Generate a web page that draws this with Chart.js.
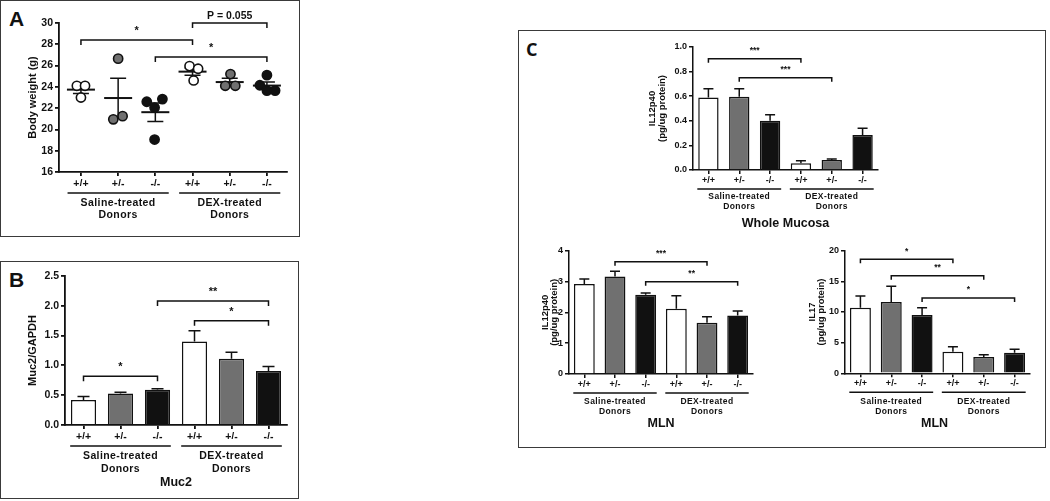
<!DOCTYPE html>
<html>
<head>
<meta charset="utf-8">
<script src="https://cdn.jsdelivr.net/npm/chart.js@4.4.1/dist/chart.umd.min.js"></script>
<style>
body{margin:0;background:#fff;}
#fig{position:relative;width:1050px;height:501px;overflow:hidden;background:#fff;}
.box{position:absolute;border:1.5px solid #3a3a3a;box-sizing:border-box;}
.letter{position:absolute;font-weight:bold;color:#111;line-height:1;}
canvas{position:absolute;}
</style>
</head>
<body>
<div id="fig">
  <div class="box" style="left:0;top:0;width:300px;height:237px"></div>
  <div class="box" style="left:0;top:261px;width:299px;height:238px"></div>
  <div class="box" style="left:518px;top:30px;width:528px;height:418px"></div>
  <div class="letter" style="left:9px;top:7px;font:bold 21px 'Liberation Sans',Arial,sans-serif">A</div>
  <div class="letter" style="left:9px;top:268px;font:bold 21px 'Liberation Sans',Arial,sans-serif">B</div>
  <div class="letter" style="left:526px;top:37px;font:bold 18px 'Open Sans',sans-serif">C</div>
  <canvas id="chartA" width="300" height="237" style="left:0;top:0"></canvas>
  <canvas id="chartB" width="300" height="236" style="left:0;top:262px"></canvas>
  <canvas id="chartC1" width="300" height="205" style="left:600px;top:32px"></canvas>
  <canvas id="chartC2" width="250" height="200" style="left:520px;top:235px"></canvas>
  <canvas id="chartC3" width="262" height="200" style="left:780px;top:235px"></canvas>
</div>
<script>
// ---- data ----
const genotypes = ['+/+', '+/-', '-/-', '+/+', '+/-', '-/-'];
const groupNames = [['Saline-treated', 'Donors'], ['DEX-treated', 'Donors']];
const groupColors = ['#ffffff', '#707070', '#111111', '#ffffff', '#707070', '#111111'];

// A: body weight, individual mice
const weightTicks = [16, 18, 20, 22, 24, 26, 28, 30];
const weightValues = [
    [24.1, 24.1, 23.0],
    [26.65, 20.95, 21.25],
    [22.6, 22.85, 22.05, 19.05],
    [25.95, 25.7, 24.6],
    [25.2, 24.1, 24.1],
    [24.15, 25.1, 23.65, 23.65]
];
const weightJitter = [
    [-0.11, 0.11, 0],
    [0, -0.13, 0.12],
    [-0.23, 0.19, -0.02, -0.02],
    [-0.08, 0.15, 0.03],
    [0.02, -0.12, 0.15],
    [-0.19, 0, 0, 0.22]
];
const weightMeans = [23.74, 22.95, 21.62, 25.43, 24.45, 24.12];
const weightSem = [0.37, 1.85, 0.87, 0.35, 0.36, 0.33];
const weightSig = [
    {from: 1, to: 4, y: 28.4, text: '*'},
    {from: 4, to: 6, y: 30.0, text: 'P = 0.055'},
    {from: 3, to: 6, y: 26.8, text: '*'}
];

// B: Muc2/GAPDH
const muc2Ticks = [0, 0.5, 1.0, 1.5, 2.0, 2.5];
const muc2Means = [0.42, 0.53, 0.59, 1.40, 1.11, 0.905];
const muc2Sem = [0.06, 0.02, 0.02, 0.18, 0.11, 0.075];
const muc2Sig = [
    {from: 0, to: 2, y: 0.82, text: '*'},
    {from: 2, to: 5, y: 2.08, text: '**'},
    {from: 3, to: 5, y: 1.75, text: '*'}
];

// C: whole mucosa IL12p40
const mucosaTicks = [0, 0.2, 0.4, 0.6, 0.8, 1.0];
const mucosaIl12 = [0.59, 0.595, 0.40, 0.054, 0.081, 0.284];
const mucosaIl12Sem = [0.07, 0.065, 0.05, 0.022, 0.008, 0.056];
const mucosaSig = [
    {from: 0, to: 3, y: 0.905, text: '***'},
    {from: 1, to: 4, y: 0.75, text: '***'}
];

// C: MLN IL12p40
const mlnIl12Ticks = [0, 1, 2, 3, 4];
const mlnIl12 = [2.92, 3.16, 2.57, 2.12, 1.66, 1.90];
const mlnIl12Sem = [0.16, 0.17, 0.06, 0.42, 0.20, 0.14];
const mlnIl12Sig = [
    {from: 1, to: 4, y: 3.64, text: '***'},
    {from: 2, to: 5, y: 2.99, text: '**'}
];

// C: MLN IL17
const mlnIl17Ticks = [0, 5, 10, 15, 20];
const mlnIl17 = [10.7, 11.65, 9.5, 3.53, 2.66, 3.37];
const mlnIl17Sem = [1.9, 2.55, 1.2, 0.82, 0.38, 0.54];
const mlnIl17Sig = [
    {from: 0, to: 3, y: 18.6, text: '*'},
    {from: 1, to: 4, y: 15.9, text: '**'},
    {from: 2, to: 5, y: 12.3, text: '*'}
];

// ---- drawing ----
const INK = '#111';
const FONT = "'Liberation Sans', Arial, sans-serif";
Chart.defaults.font.family = FONT;
Chart.defaults.font.weight = 'bold';
Chart.defaults.color = INK;

function paddingFor(canvasRect, area, yW, xH) {
    return {
        left: area.left - canvasRect.left - yW,
        top: area.top - canvasRect.top,
        right: canvasRect.left + canvasRect.w - area.right,
        bottom: canvasRect.top + canvasRect.h - area.bottom - xH
    };
}

function textAt(ctx, str, x, y, size, spacing) {
    ctx.font = 'bold ' + size + 'px ' + FONT;
    ctx.letterSpacing = (spacing || 0) + 'px';
    ctx.textAlign = 'center';
    ctx.textBaseline = 'middle';
    ctx.fillStyle = INK;
    ctx.fillText(str, x, y);
    ctx.letterSpacing = '0px';
}

// brackets, group lines, titles
function extrasPlugin(st) {
    return {
        id: 'extras',
        beforeDatasetsDraw(chart) {
            if (st.means) {
                const ctx = chart.ctx, xs = chart.scales.x, ys = chart.scales.y;
                ctx.save();
                ctx.strokeStyle = INK;
                st.means.forEach((m, i) => {
                    const x = xs.getPixelForValue(i + 1);
                    const yTop = ys.getPixelForValue(m + st.sems[i]);
                    const yBot = ys.getPixelForValue(m - st.sems[i]);
                    ctx.lineWidth = 1.5;
                    ctx.beginPath();
                    ctx.moveTo(x, yTop); ctx.lineTo(x, yBot);
                    ctx.moveTo(x - 8, yTop); ctx.lineTo(x + 8, yTop);
                    ctx.moveTo(x - 8, yBot); ctx.lineTo(x + 8, yBot);
                    ctx.stroke();
                    ctx.lineWidth = 2;
                    const ym = ys.getPixelForValue(m);
                    ctx.beginPath();
                    ctx.moveTo(x - 14, ym); ctx.lineTo(x + 14, ym);
                    ctx.stroke();
                });
                ctx.restore();
            }
        },
        afterDatasetsDraw(chart) {
            const ctx = chart.ctx, xs = chart.scales.x, ys = chart.scales.y;
            const area = chart.chartArea;
            ctx.save();
            ctx.strokeStyle = INK;
            ctx.lineCap = 'butt';
            // upward SEM on bars
            if (st.barSems) {
                ctx.lineWidth = 1.5;
                st.barMeans.forEach((m, i) => {
                    const x = xs.getPixelForValue(i);
                    const y0 = ys.getPixelForValue(m);
                    const y1 = ys.getPixelForValue(m + st.barSems[i]);
                    ctx.beginPath();
                    ctx.moveTo(x, y0); ctx.lineTo(x, y1);
                    ctx.moveTo(x - st.cap, y1); ctx.lineTo(x + st.cap, y1);
                    ctx.stroke();
                });
            }
            // significance brackets
            ctx.lineWidth = 1.5;
            st.sig.forEach(b => {
                const x1 = xs.getPixelForValue(b.from), x2 = xs.getPixelForValue(b.to);
                const y = ys.getPixelForValue(b.y);
                ctx.beginPath();
                ctx.moveTo(x1, y + st.drop); ctx.lineTo(x1, y);
                ctx.lineTo(x2, y); ctx.lineTo(x2, y + st.drop);
                ctx.stroke();
                const isStar = b.text.indexOf('*') === 0;
                textAt(ctx, b.text, (x1 + x2) / 2, y - (isStar ? st.starGap : st.pGap),
                    isStar ? st.starSize : st.pSize, 0);
            });
            // group underlines and names
            const step = Math.abs(xs.getPixelForValue(st.first + 1) - xs.getPixelForValue(st.first));
            [0, 1].forEach(g => {
                const xa = xs.getPixelForValue(st.first + g * 3) - step * 0.36;
                const xb = xs.getPixelForValue(st.first + g * 3 + 2) + step * 0.36;
                const yl = area.bottom + st.lineOff;
                ctx.lineWidth = 1.5;
                ctx.beginPath();
                ctx.moveTo(xa, yl); ctx.lineTo(xb, yl);
                ctx.stroke();
                textAt(ctx, groupNames[g][0], (xa + xb) / 2, area.bottom + st.name1, st.groupSize, 0.4);
                textAt(ctx, groupNames[g][1], (xa + xb) / 2, area.bottom + st.name2, st.groupSize, 0.4);
            });
            if (st.title) {
                textAt(ctx, st.title, (area.left + area.right) / 2 + (st.titleDx || 0),
                    area.bottom + st.titleOff, st.titleSize, 0);
            }
            // y-axis title
            st.yTitle.forEach((line, k) => {
                ctx.save();
                ctx.translate(area.left + st.yTitleX[k], (area.top + area.bottom) / 2);
                ctx.rotate(-Math.PI / 2);
                textAt(ctx, line, 0, 0, st.yTitleSize, 0);
                ctx.restore();
            });
            ctx.restore();
        }
    };
}

function axisOptions(yW, xH, tickSize, yMin, yMax, yTicks, xPad, axisW) {
    return {
        x: {
            grid: {display: true, drawOnChartArea: false, drawTicks: true, tickLength: 4,
                   color: INK, lineWidth: axisW, offset: false},
            border: {display: true, color: INK, width: axisW},
            ticks: {font: {size: tickSize, weight: 'bold'}, color: INK, padding: xPad,
                    maxRotation: 0, autoSkip: false},
            afterFit: s => { s.height = xH; }
        },
        y: {
            min: yMin, max: yMax,
            grid: {display: true, drawOnChartArea: false, drawTicks: true, tickLength: 4,
                   color: INK, lineWidth: axisW},
            border: {display: true, color: INK, width: axisW},
            ticks: {font: {size: tickSize, weight: 'bold'}, color: INK, padding: 2,
                    autoSkip: false},
            afterBuildTicks: s => { s.ticks = yTicks.map(v => ({value: v})); },
            afterFit: s => { s.width = yW; }
        }
    };
}

function baseOptions(pad, scales) {
    return {
        responsive: false, animation: false, maintainAspectRatio: false,
        layout: {padding: pad},
        plugins: {legend: {display: false}, tooltip: {enabled: false}},
        scales: scales
    };
}

function barChart(id, rect, area, values, sems, ticks, sig, st) {
    const yW = 36, xH = 14;
    const scales = axisOptions(yW, xH, st.tickSize, ticks[0], ticks[ticks.length - 1], ticks, st.xPad, st.axisW);
    scales.y.ticks.callback = v => (st.decimals ? v.toFixed(st.decimals) : String(v));
    new Chart(document.getElementById(id), {
        type: 'bar',
        data: {
            labels: genotypes,
            datasets: [{
                data: values,
                backgroundColor: groupColors,
                borderColor: INK,
                borderWidth: 1.5,
                borderSkipped: 'bottom',
                categoryPercentage: 1,
                barPercentage: st.barPct
            }]
        },
        options: baseOptions(paddingFor(rect, area, yW, xH), scales),
        plugins: [extrasPlugin(Object.assign({sig: sig, barMeans: values, barSems: sems, first: 0}, st))]
    });
}

// ---- Panel A ----
(function () {
    const rect = {left: 0, top: 0, w: 300, h: 237};
    const area = {left: 59, top: 23, right: 287, bottom: 172};
    const yW = 36, xH = 14;
    const scales = axisOptions(yW, xH, 10.5, 16, 30, weightTicks, 2, 1.8);
    scales.x.type = 'linear';
    scales.x.min = 0.41;
    scales.x.max = 6.54;
    scales.x.afterBuildTicks = s => { s.ticks = genotypes.map((g, i) => ({value: i + 1})); };
    scales.x.ticks.callback = v => genotypes[v - 1];
    const datasets = weightValues.map((vals, i) => ({
        data: vals.map((v, j) => ({x: i + 1 + weightJitter[i][j], y: v})),
        pointRadius: 4.6,
        pointBorderWidth: 1.6,
        pointBorderColor: INK,
        pointBackgroundColor: groupColors[i],
        showLine: false
    }));
    new Chart(document.getElementById('chartA'), {
        type: 'scatter',
        data: {datasets: datasets},
        options: Object.assign(baseOptions(paddingFor(rect, area, yW, xH), scales), {clip: false}),
        plugins: [extrasPlugin({
            sig: weightSig, means: weightMeans, sems: weightSem, first: 1,
            drop: 5, starGap: 9, pGap: 7, starSize: 11, pSize: 10.5,
            lineOff: 21, name1: 31, name2: 43, groupSize: 10.5,
            yTitle: ['Body weight (g)'], yTitleX: [-26], yTitleSize: 11
        })]
    });
})();

// ---- Panel B ----
barChart('chartB', {left: 0, top: 262, w: 300, h: 236},
    {left: 65, top: 276, right: 287, bottom: 425},
    muc2Means, muc2Sem, muc2Ticks, muc2Sig, {
        tickSize: 10.5, xPad: 2, decimals: 1, barPct: 0.68, cap: 6, axisW: 1.8,
        drop: 5, starGap: 9, starSize: 11,
        lineOff: 21, name1: 31, name2: 44, groupSize: 10.5,
        title: 'Muc2', titleOff: 58, titleSize: 12.5,
        yTitle: ['Muc2/GAPDH'], yTitleX: [-32], yTitleSize: 11
    });

// ---- Panel C ----
barChart('chartC1', {left: 600, top: 32, w: 300, h: 205},
    {left: 693, top: 47, right: 878, bottom: 170},
    mucosaIl12, mucosaIl12Sem, mucosaTicks, mucosaSig, {
        tickSize: 9, xPad: 1, decimals: 1, barPct: 0.66, cap: 5, axisW: 1.5,
        drop: 4, starGap: 8, starSize: 8.5,
        lineOff: 19, name1: 27, name2: 37, groupSize: 8.5,
        title: 'Whole Mucosa', titleOff: 54, titleSize: 12.5,
        yTitle: ['IL12p40', '(pg/ug protein)'], yTitleX: [-41, -31], yTitleSize: 9.5
    });

barChart('chartC2', {left: 520, top: 235, w: 250, h: 200},
    {left: 569, top: 250.7, right: 753, bottom: 374},
    mlnIl12, mlnIl12Sem, mlnIl12Ticks, mlnIl12Sig, {
        tickSize: 9, xPad: 1, decimals: 0, barPct: 0.68, cap: 5, axisW: 1.5,
        drop: 4, starGap: 8, starSize: 8.5,
        lineOff: 19, name1: 28, name2: 38, groupSize: 8.5,
        title: 'MLN', titleOff: 50, titleSize: 12.5,
        yTitle: ['IL12p40', '(pg/ug protein)'], yTitleX: [-24, -15], yTitleSize: 9.5
    });

barChart('chartC3', {left: 780, top: 235, w: 262, h: 200},
    {left: 845, top: 250.7, right: 1030, bottom: 373.3},
    mlnIl17, mlnIl17Sem, mlnIl17Ticks, mlnIl17Sig, {
        tickSize: 9, xPad: 1, decimals: 0, barPct: 0.68, cap: 5, axisW: 1.5,
        drop: 4, starGap: 8, starSize: 8.5,
        lineOff: 19, name1: 28, name2: 38, groupSize: 8.5,
        title: 'MLN', titleOff: 50, titleSize: 12.5, titleDx: -3,
        yTitle: ['IL17', '(pg/ug protein)'], yTitleX: [-33, -24], yTitleSize: 9.5
    });
</script>
</body>
</html>
